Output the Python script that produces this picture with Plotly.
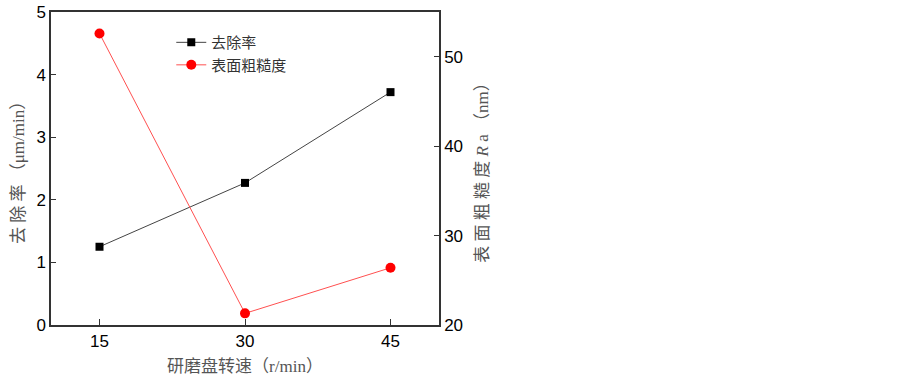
import plotly.graph_objects as go

speeds = [15, 30, 45]
removal_rate = [1.25, 2.27, 3.72]
roughness = [52.6, 21.3, 26.4]

x_ticks = [15, 30, 45]
left_ticks = [0, 1, 2, 3, 4, 5]
right_ticks = [20, 30, 40, 50]

tick_font = dict(family="Liberation Sans, Arial", size=17, color="#000")
title_font = dict(family="Liberation Serif, Noto Sans CJK SC", size=17, color="#555")
axis_col = "#333"

fig = go.Figure()
fig.add_trace(go.Scatter(
    x=speeds, y=removal_rate, name="去除率", mode="lines+markers",
    line=dict(color="#444", width=1),
    marker=dict(symbol="square", size=8, color="#000"),
    yaxis="y"))
fig.add_trace(go.Scatter(
    x=speeds, y=roughness, name="表面粗糙度", mode="lines+markers",
    line=dict(color="#ff5050", width=1),
    marker=dict(symbol="circle", size=10, color="#ff0000"),
    yaxis="y2"))

fig.update_layout(
    width=903, height=376,
    margin=dict(l=51, r=464, t=12, b=51, autoexpand=False),
    plot_bgcolor="white", paper_bgcolor="white",
    showlegend=True,
    legend=dict(x=0.31, y=0.955, xanchor="left", yanchor="top",
                bgcolor="rgba(0,0,0,0)",
                font=dict(family="Noto Sans CJK SC", size=15, color="#333"),
                tracegroupgap=0, itemwidth=30),
    xaxis=dict(range=[10, 50], tickvals=x_ticks, ticks="inside", ticklen=6,
               tickcolor=axis_col, showline=True, linecolor=axis_col, linewidth=1.5,
               mirror=True, showgrid=False, zeroline=False, tickfont=tick_font,
               automargin=False,
               title=dict(text="研磨盘转速（r/min）", font=title_font, standoff=14)),
    yaxis=dict(range=[0, 5], tickvals=left_ticks, ticks="inside", ticklen=5,
               tickcolor=axis_col, showline=True, linecolor=axis_col, linewidth=1.5,
               showgrid=False, zeroline=False, tickfont=tick_font, automargin=False,
               title=dict(text="去 除 率 （μm/min）", font=title_font, standoff=7)),
    yaxis2=dict(range=[20, 55], tickvals=right_ticks, ticks="inside", ticklen=5,
                tickcolor=axis_col, showline=True, linecolor=axis_col, linewidth=1.5,
                overlaying="y", side="right", showgrid=False, zeroline=False,
                tickfont=tick_font, automargin=False,
                title=dict(text="表 面 粗 糙 度 <i>R</i> a （nm）", font=title_font, standoff=14)),
)

fig.write_html("out.html", config={"displayModeBar": False},
               post_script="document.body.style.margin='0';")
